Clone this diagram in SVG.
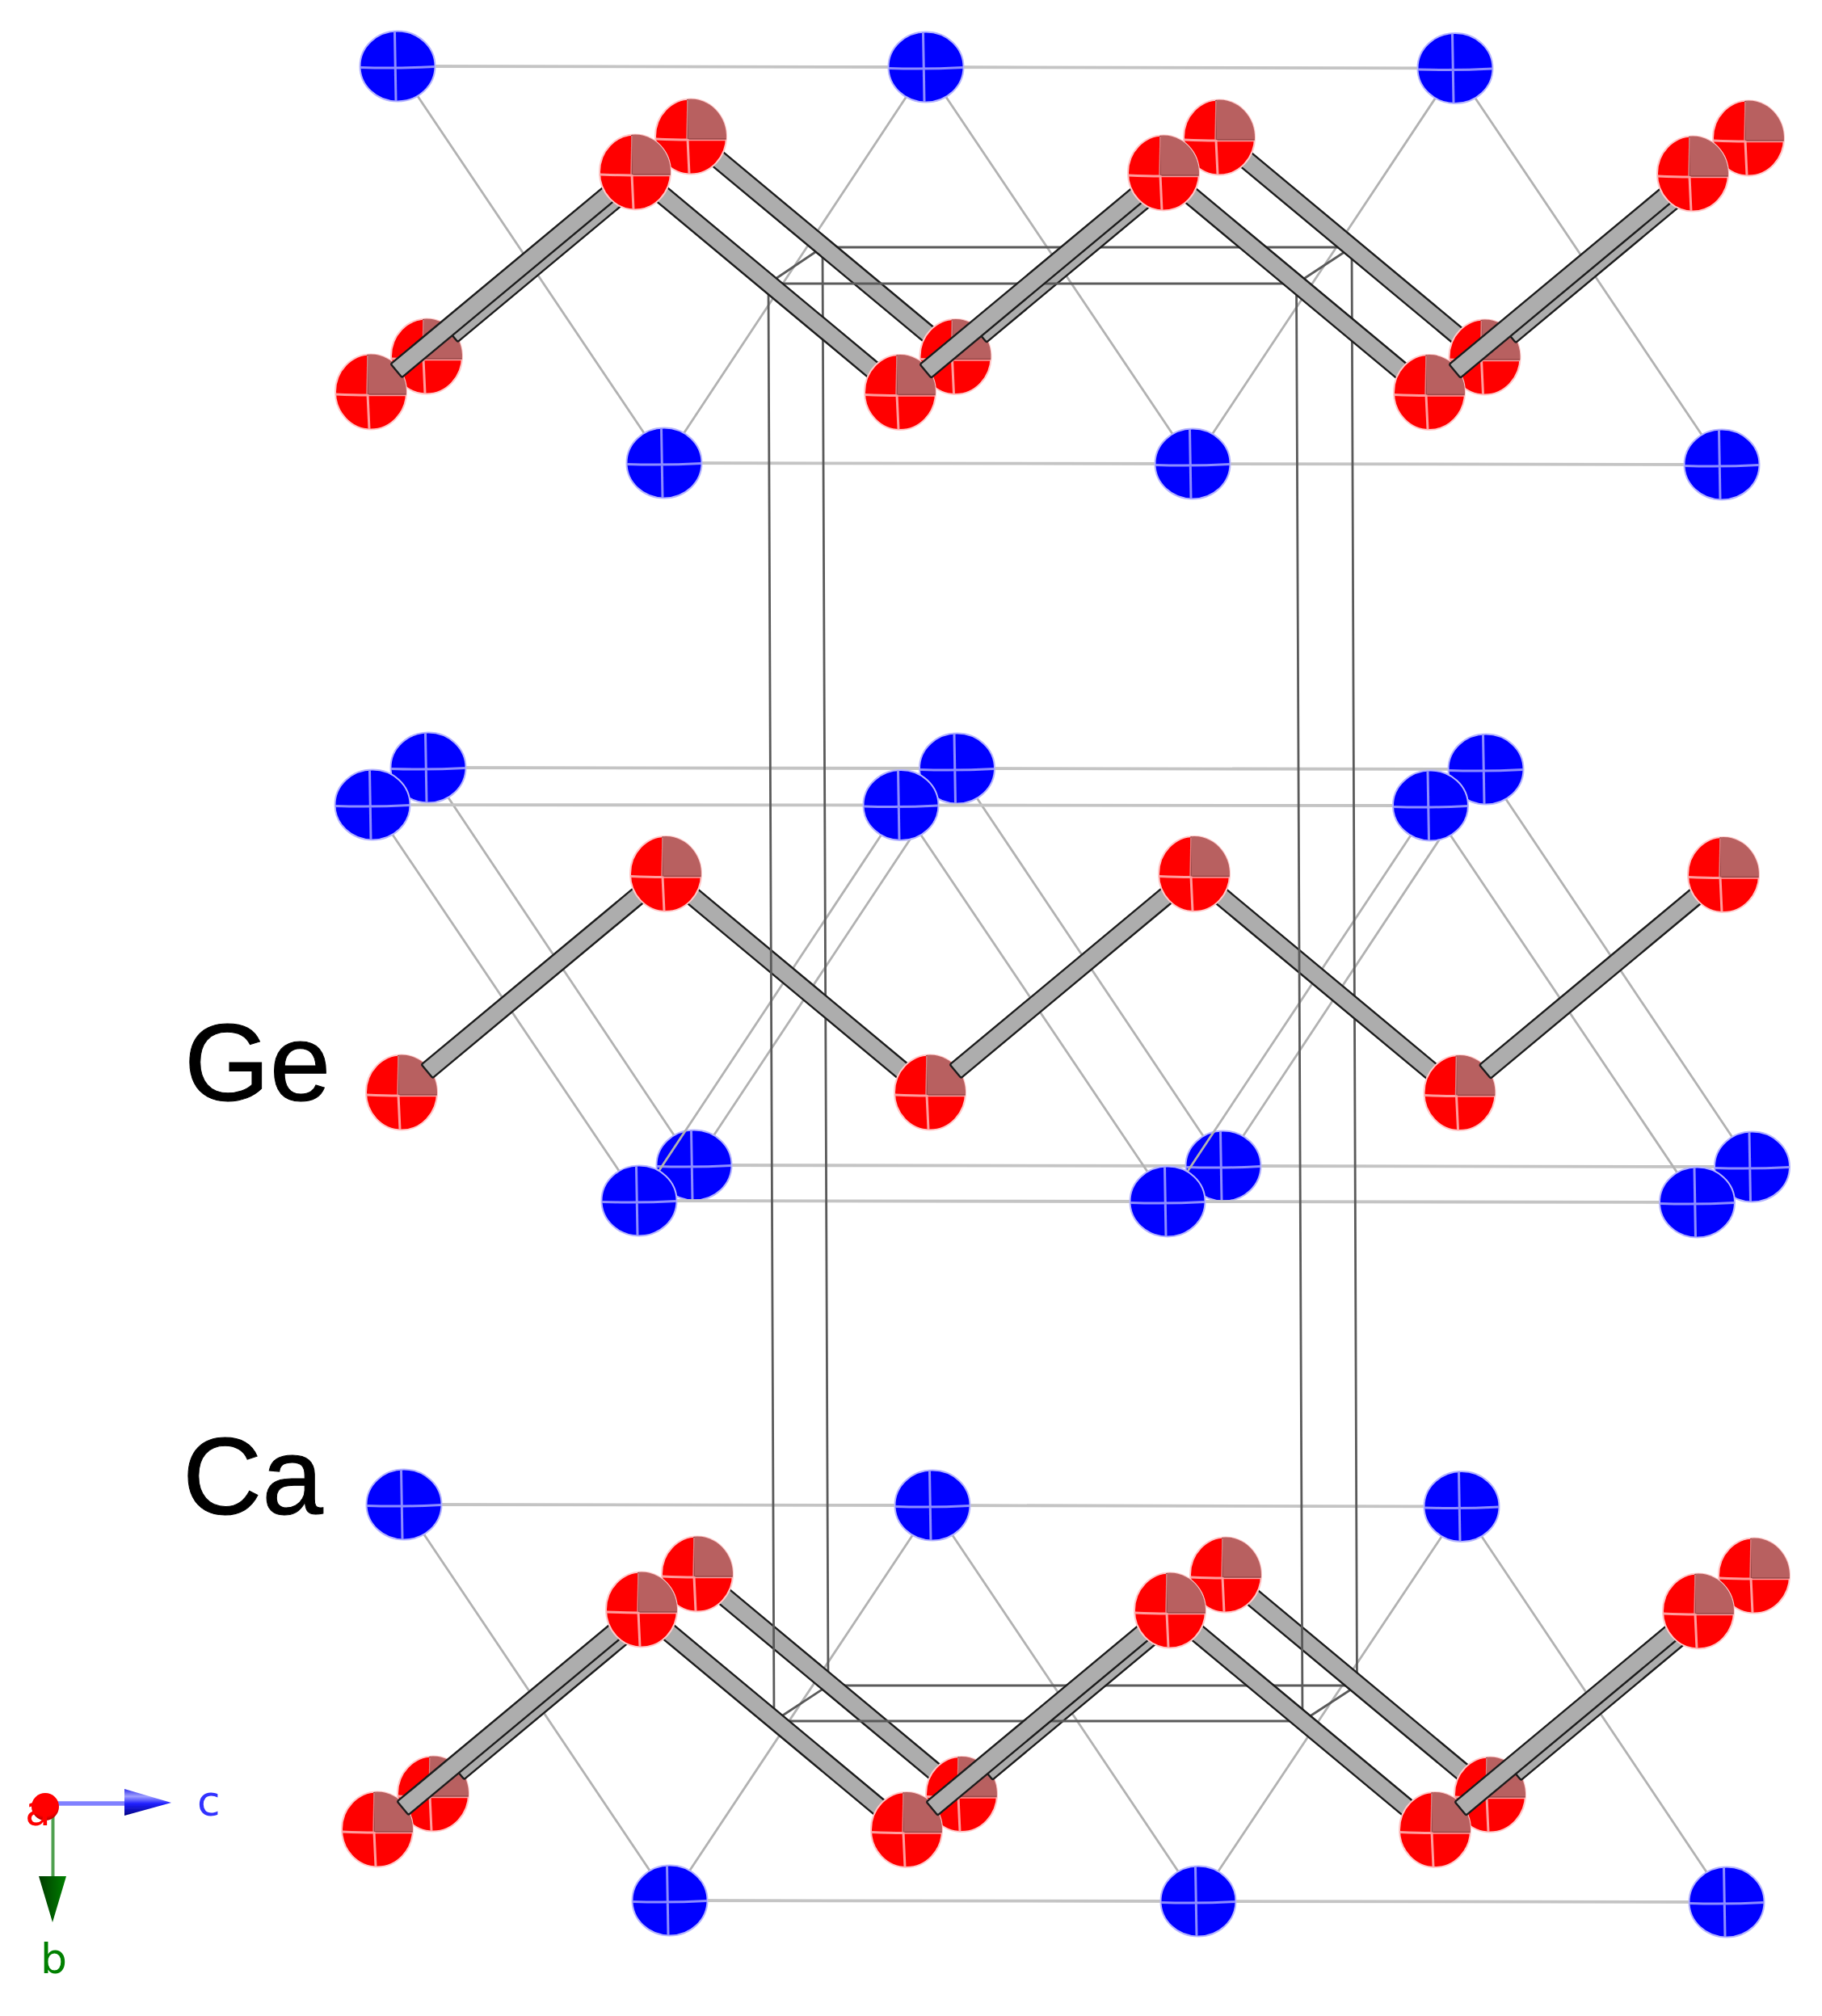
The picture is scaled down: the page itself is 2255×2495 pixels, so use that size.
<svg xmlns="http://www.w3.org/2000/svg" width="2255" height="2495" viewBox="0 0 2255 2495">
<style>
.hl{stroke:#c4c4c4;stroke-width:3.8;fill:none}
.dl{stroke:#b2b2b2;stroke-width:2.8;fill:none}
.box{stroke:#5a5a5a;stroke-width:2.8;fill:none}
.lbl{font-family:"Liberation Sans",Arial,sans-serif;fill:#000;font-size:136px;stroke:#000;stroke-width:1}
.ax{font-family:"DejaVu Sans",sans-serif;font-size:52px}
</style>
<defs>
<filter id="soft" x="0" y="0" width="100%" height="100%" filterUnits="userSpaceOnUse"><feGaussianBlur stdDeviation="0.7"/></filter>
<g id="ca">
<ellipse rx="46.5" ry="43.5" fill="#0000ff" stroke="#b4b4ff" stroke-width="2"/>
<path d="M-3.5,-43 L-2,43 M-46,1.5 Q0,3 46,0.5" stroke="#8c8cff" stroke-width="3" fill="none"/>
</g>
<g id="o">
<ellipse rx="44" ry="46.5" fill="#ff0000" stroke="#ffc8c8" stroke-width="2"/>
<path d="M-4,3 L-4,-46.3 A44,46.5 0 0 1 43.9,3 Z" fill="#b86060"/>
<path d="M-4,3 L-4,-46 M-4,3 L43.6,3" stroke="#9c4c4c" stroke-width="2" fill="none"/>
<path d="M-43.5,3 Q-20,4 -4,4 M-4,3 L-2,46" stroke="#ff9c9c" stroke-width="3" fill="none"/>
<path d="M-4,-45 L-5,3" stroke="#e08080" stroke-width="1.5" fill="none"/>
<path d="M-4,4.5 L43.5,4.5" stroke="#ff9c9c" stroke-width="1.5" fill="none"/>
</g>
<rect id="b" x="41" y="-10.8" width="384" height="21.6" rx="2" fill="#adadad" stroke="#1c1c1c" stroke-width="2.4"/>
<linearGradient id="gc" x1="0" y1="0" x2="0" y2="1"><stop offset="0" stop-color="#3030e8"/><stop offset="0.28" stop-color="#a0a0ff"/><stop offset="0.55" stop-color="#2020ff"/><stop offset="1" stop-color="#000080"/></linearGradient>
<linearGradient id="gb" x1="0" y1="0" x2="1" y2="0"><stop offset="0" stop-color="#003c00"/><stop offset="0.6" stop-color="#006400"/><stop offset="1" stop-color="#008000"/></linearGradient>
<radialGradient id="ga" cx="0.5" cy="0.35" r="0.75"><stop offset="0.65" stop-color="#ff0000"/><stop offset="1" stop-color="#800000"/></radialGradient>
</defs>
<g filter="url(#soft)">
<rect width="2255" height="2495" fill="#ffffff"/>
<g id="connectors-ca-ca-outer">
<path class="hl" d="M492,82 L1146,83 L1801,84.5 M822,573 L1476,574 L2131,575 M500,1862 L1154,1863 L1809,1864.5 M829,2352 L1483,2353 L2137,2354"/>
<path class="dl" d="M492,82 L822,573 L1146,83 L1476,574 L1801,84.5 L2131,575 M500,1862 L829,2352 L1154,1863 L1483,2353 L1809,1864.5 L2137,2354"/>
</g>
<g id="ca-outer">
<g id="ca1"><use href="#ca" x="492" y="82"/></g>
<g id="ca2"><use href="#ca" x="1146" y="83"/></g>
<g id="ca3"><use href="#ca" x="1801" y="84.5"/></g>
<g id="ca4"><use href="#ca" x="822" y="573"/></g>
<g id="ca5"><use href="#ca" x="1476" y="574"/></g>
<g id="ca6"><use href="#ca" x="2131" y="575"/></g>
<g id="ca7"><use href="#ca" x="500" y="1862"/></g>
<g id="ca8"><use href="#ca" x="1154" y="1863"/></g>
<g id="ca9"><use href="#ca" x="1809" y="1864.5"/></g>
<g id="ca10"><use href="#ca" x="829" y="2352"/></g>
<g id="ca11"><use href="#ca" x="1483" y="2353"/></g>
<g id="ca12"><use href="#ca" x="2137" y="2354"/></g>
</g>
<g id="connectors-ca-ca-mid-back">
<path class="hl" d="M530,950 L1184.5,951 L1839,952 M859,1442 L1514,1443 L2168.5,1444"/>
<path class="dl" d="M530,950 L859,1442 L1184.5,951 L1514,1443 L1839,952 L2168.5,1444"/>
</g>
<g id="ca-mid-back">
<g id="ca13"><use href="#ca" x="530" y="950"/></g>
<g id="ca14"><use href="#ca" x="1184.5" y="951"/></g>
<g id="ca15"><use href="#ca" x="1839" y="952"/></g>
<g id="ca16"><use href="#ca" x="859" y="1442"/></g>
<g id="ca17"><use href="#ca" x="1514" y="1443"/></g>
<g id="ca18"><use href="#ca" x="2168.5" y="1444"/></g>
</g>
<g id="connectors-ca-ca-mid-front">
<path class="hl" d="M461,996 L1115,996.5 L1770.5,997 M791,1486 L1445,1487 L2100.5,1488"/>
<path class="dl" d="M461,996 L791,1486 L1115,996.5 L1445,1487 L1770.5,997 L2100.5,1488"/>
</g>
<g id="ca-mid-front">
<g id="ca19"><use href="#ca" x="461" y="996"/></g>
<g id="ca20"><use href="#ca" x="1115" y="996.5"/></g>
<g id="ca21"><use href="#ca" x="1770.5" y="997"/></g>
<g id="ca22"><use href="#ca" x="791" y="1486"/></g>
<g id="ca23"><use href="#ca" x="1445" y="1487"/></g>
<g id="ca24"><use href="#ca" x="2100.5" y="1488"/></g>
</g>
<g id="cell-back">
<path class="box" d="M1018,306 H1673 L1679.5,2086 H1025 Z M1018,306 L951,351 M1673,306 L1604.5,351 M1025,2086 L958,2130 M1679.5,2086 L1612,2130"/>
</g>
<g id="connectors-ge-mid-down">
<use href="#b" transform="translate(824 1081.5) rotate(39.76)"/>
<use href="#b" transform="translate(1478 1081.5) rotate(39.76)"/>
</g>
<g id="ge-mid-low">
<g id="ge1"><use href="#o" x="497" y="1352"/></g>
<g id="ge2"><use href="#o" x="1151" y="1352"/></g>
<g id="ge3"><use href="#o" x="1806.5" y="1352.5"/></g>
</g>
<g id="connectors-ge-mid-up">
<use href="#b" transform="translate(497 1352) rotate(-39.76)"/>
<use href="#b" transform="translate(1151 1352) rotate(-39.76)"/>
<use href="#b" transform="translate(1806.5 1352.5) rotate(-39.76)"/>
</g>
<g id="ge-mid-up">
<g id="ge4"><use href="#o" x="824" y="1081.5"/></g>
<g id="ge5"><use href="#o" x="1478" y="1081.5"/></g>
<g id="ge6"><use href="#o" x="2133" y="1082.5"/></g>
</g>
<g id="connectors-ge-back-down">
<use href="#b" transform="translate(855 169) rotate(39.76)"/>
<use href="#b" transform="translate(1509 170) rotate(39.76)"/>
<use href="#b" transform="translate(863 1948) rotate(39.76)"/>
<use href="#b" transform="translate(1517 1949) rotate(39.76)"/>
</g>
<g id="ge-back-low">
<g id="ge7"><use href="#o" x="528" y="441"/></g>
<g id="ge8"><use href="#o" x="1182.5" y="441.5"/></g>
<g id="ge9"><use href="#o" x="1837.5" y="442"/></g>
<g id="ge10"><use href="#o" x="536" y="2220"/></g>
<g id="ge11"><use href="#o" x="1190" y="2220.5"/></g>
<g id="ge12"><use href="#o" x="1844" y="2221"/></g>
</g>
<g id="connectors-ge-back-up">
<use href="#b" transform="translate(528 441) rotate(-39.76)"/>
<use href="#b" transform="translate(1182.5 441.5) rotate(-39.76)"/>
<use href="#b" transform="translate(1837.5 442) rotate(-39.76)"/>
<use href="#b" transform="translate(536 2220) rotate(-39.76)"/>
<use href="#b" transform="translate(1190 2220.5) rotate(-39.76)"/>
<use href="#b" transform="translate(1844 2221) rotate(-39.76)"/>
</g>
<g id="ge-back-up">
<g id="ge13"><use href="#o" x="855" y="169"/></g>
<g id="ge14"><use href="#o" x="1509" y="170"/></g>
<g id="ge15"><use href="#o" x="2164" y="171"/></g>
<g id="ge16"><use href="#o" x="863" y="1948"/></g>
<g id="ge17"><use href="#o" x="1517" y="1949"/></g>
<g id="ge18"><use href="#o" x="2171" y="1950"/></g>
</g>
<g id="cell-front">
<path class="box" d="M951,351 H1604.5 L1612,2130 H958 Z"/>
</g>
<g id="connectors-ge-front-down">
<use href="#b" transform="translate(786 213) rotate(39.76)"/>
<use href="#b" transform="translate(1440 214) rotate(39.76)"/>
<use href="#b" transform="translate(794 1992) rotate(39.76)"/>
<use href="#b" transform="translate(1448 1993) rotate(39.76)"/>
</g>
<g id="ge-front-low">
<g id="ge19"><use href="#o" x="459" y="485"/></g>
<g id="ge20"><use href="#o" x="1114" y="485.5"/></g>
<g id="ge21"><use href="#o" x="1769" y="485.5"/></g>
<g id="ge22"><use href="#o" x="467" y="2264"/></g>
<g id="ge23"><use href="#o" x="1122" y="2264.5"/></g>
<g id="ge24"><use href="#o" x="1776" y="2264.5"/></g>
</g>
<g id="connectors-ge-front-up">
<use href="#b" transform="translate(459 485) rotate(-39.76)"/>
<use href="#b" transform="translate(1114 485.5) rotate(-39.76)"/>
<use href="#b" transform="translate(1769 485.5) rotate(-39.76)"/>
<use href="#b" transform="translate(467 2264) rotate(-39.76)"/>
<use href="#b" transform="translate(1122 2264.5) rotate(-39.76)"/>
<use href="#b" transform="translate(1776 2264.5) rotate(-39.76)"/>
</g>
<g id="ge-front-up">
<g id="ge25"><use href="#o" x="786" y="213"/></g>
<g id="ge26"><use href="#o" x="1440" y="214"/></g>
<g id="ge27"><use href="#o" x="2095" y="215"/></g>
<g id="ge28"><use href="#o" x="794" y="1992"/></g>
<g id="ge29"><use href="#o" x="1448" y="1993"/></g>
<g id="ge30"><use href="#o" x="2102" y="1994"/></g>
</g>
<g id="label-ge"><text class="lbl" x="228" y="1362">Ge</text></g>
<g id="label-ca"><text class="lbl" x="226" y="1874">Ca</text></g>
<g id="axes">
<path d="M68,2232 H156" stroke="#8080ff" stroke-width="5.5" fill="none"/>
<path d="M65.5,2245 V2324" stroke="#50a050" stroke-width="4" fill="none"/>
<path d="M154,2214 L212,2231 L154,2247 Z" fill="url(#gc)"/>
<path d="M48,2322 H82 L65,2379 Z" fill="url(#gb)"/>
<circle cx="56" cy="2236" r="17" fill="url(#ga)"/>
<text class="ax" x="31" y="2259" fill="#ff0000">a</text>
<text class="ax" x="244" y="2247" fill="#3333ff">c</text>
<text class="ax" x="50" y="2442" fill="#008000">b</text>
</g>
</g>
</svg>
